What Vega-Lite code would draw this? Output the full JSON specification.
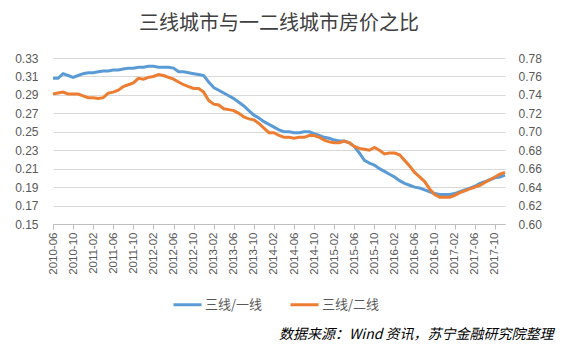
{
  "$schema": "https://vega.github.io/schema/vega-lite/v6.json",
  "width": 452,
  "height": 166,
  "autosize": "none",
  "padding": {"left": 53, "top": 58, "right": 56, "bottom": 120},
  "background": "white",
  "title": {
    "text": "三线城市与一二线城市房价之比",
    "font": "Noto Sans CJK SC",
    "fontSize": 20,
    "fontWeight": "normal",
    "color": "#404040",
    "anchor": "middle",
    "offset": 18
  },
  "config": {
    "view": {"stroke": null},
    "axis": {"labelFont": "Liberation Sans", "labelColor": "#595959", "titleColor": "#000000"}
  },
  "data": {"values": [
    {"month": "2010-06", "a": 0.308, "b": 0.741},
    {"month": "2010-07", "a": 0.308, "b": 0.742},
    {"month": "2010-08", "a": 0.313, "b": 0.743},
    {"month": "2010-09", "a": 0.311, "b": 0.741},
    {"month": "2010-10", "a": 0.309, "b": 0.741},
    {"month": "2010-11", "a": 0.311, "b": 0.741},
    {"month": "2010-12", "a": 0.313, "b": 0.739},
    {"month": "2011-01", "a": 0.314, "b": 0.737},
    {"month": "2011-02", "a": 0.314, "b": 0.737},
    {"month": "2011-03", "a": 0.315, "b": 0.736},
    {"month": "2011-04", "a": 0.316, "b": 0.737},
    {"month": "2011-05", "a": 0.316, "b": 0.742},
    {"month": "2011-06", "a": 0.317, "b": 0.743},
    {"month": "2011-07", "a": 0.317, "b": 0.745},
    {"month": "2011-08", "a": 0.318, "b": 0.749},
    {"month": "2011-09", "a": 0.319, "b": 0.751},
    {"month": "2011-10", "a": 0.319, "b": 0.753},
    {"month": "2011-11", "a": 0.320, "b": 0.758},
    {"month": "2011-12", "a": 0.320, "b": 0.757},
    {"month": "2012-01", "a": 0.321, "b": 0.759},
    {"month": "2012-02", "a": 0.321, "b": 0.760},
    {"month": "2012-03", "a": 0.320, "b": 0.762},
    {"month": "2012-04", "a": 0.320, "b": 0.761},
    {"month": "2012-05", "a": 0.320, "b": 0.759},
    {"month": "2012-06", "a": 0.319, "b": 0.757},
    {"month": "2012-07", "a": 0.315, "b": 0.754},
    {"month": "2012-08", "a": 0.315, "b": 0.751},
    {"month": "2012-09", "a": 0.314, "b": 0.749},
    {"month": "2012-10", "a": 0.313, "b": 0.747},
    {"month": "2012-11", "a": 0.312, "b": 0.747},
    {"month": "2012-12", "a": 0.311, "b": 0.743},
    {"month": "2013-01", "a": 0.304, "b": 0.734},
    {"month": "2013-02", "a": 0.298, "b": 0.730},
    {"month": "2013-03", "a": 0.295, "b": 0.729},
    {"month": "2013-04", "a": 0.292, "b": 0.725},
    {"month": "2013-05", "a": 0.289, "b": 0.724},
    {"month": "2013-06", "a": 0.286, "b": 0.723},
    {"month": "2013-07", "a": 0.282, "b": 0.720},
    {"month": "2013-08", "a": 0.278, "b": 0.716},
    {"month": "2013-09", "a": 0.273, "b": 0.714},
    {"month": "2013-10", "a": 0.268, "b": 0.713},
    {"month": "2013-11", "a": 0.265, "b": 0.709},
    {"month": "2013-12", "a": 0.261, "b": 0.704},
    {"month": "2014-01", "a": 0.258, "b": 0.699},
    {"month": "2014-02", "a": 0.255, "b": 0.699},
    {"month": "2014-03", "a": 0.252, "b": 0.696},
    {"month": "2014-04", "a": 0.250, "b": 0.694},
    {"month": "2014-05", "a": 0.250, "b": 0.694},
    {"month": "2014-06", "a": 0.249, "b": 0.693},
    {"month": "2014-07", "a": 0.249, "b": 0.694},
    {"month": "2014-08", "a": 0.250, "b": 0.694},
    {"month": "2014-09", "a": 0.250, "b": 0.696},
    {"month": "2014-10", "a": 0.248, "b": 0.696},
    {"month": "2014-11", "a": 0.246, "b": 0.694},
    {"month": "2014-12", "a": 0.244, "b": 0.691},
    {"month": "2015-01", "a": 0.243, "b": 0.689},
    {"month": "2015-02", "a": 0.241, "b": 0.688},
    {"month": "2015-03", "a": 0.240, "b": 0.688},
    {"month": "2015-04", "a": 0.240, "b": 0.690},
    {"month": "2015-05", "a": 0.238, "b": 0.688},
    {"month": "2015-06", "a": 0.234, "b": 0.684},
    {"month": "2015-07", "a": 0.227, "b": 0.682},
    {"month": "2015-08", "a": 0.219, "b": 0.681},
    {"month": "2015-09", "a": 0.216, "b": 0.680},
    {"month": "2015-10", "a": 0.214, "b": 0.683},
    {"month": "2015-11", "a": 0.210, "b": 0.680},
    {"month": "2015-12", "a": 0.207, "b": 0.676},
    {"month": "2016-01", "a": 0.204, "b": 0.677},
    {"month": "2016-02", "a": 0.201, "b": 0.677},
    {"month": "2016-03", "a": 0.197, "b": 0.675},
    {"month": "2016-04", "a": 0.194, "b": 0.669},
    {"month": "2016-05", "a": 0.192, "b": 0.663},
    {"month": "2016-06", "a": 0.190, "b": 0.656},
    {"month": "2016-07", "a": 0.189, "b": 0.651},
    {"month": "2016-08", "a": 0.187, "b": 0.646},
    {"month": "2016-09", "a": 0.185, "b": 0.638},
    {"month": "2016-10", "a": 0.183, "b": 0.632},
    {"month": "2016-11", "a": 0.182, "b": 0.629},
    {"month": "2016-12", "a": 0.182, "b": 0.629},
    {"month": "2017-01", "a": 0.182, "b": 0.629},
    {"month": "2017-02", "a": 0.183, "b": 0.631},
    {"month": "2017-03", "a": 0.185, "b": 0.634},
    {"month": "2017-04", "a": 0.187, "b": 0.636},
    {"month": "2017-05", "a": 0.189, "b": 0.638},
    {"month": "2017-06", "a": 0.191, "b": 0.640},
    {"month": "2017-07", "a": 0.194, "b": 0.642},
    {"month": "2017-08", "a": 0.196, "b": 0.645},
    {"month": "2017-09", "a": 0.198, "b": 0.648},
    {"month": "2017-10", "a": 0.200, "b": 0.651},
    {"month": "2017-11", "a": 0.201, "b": 0.654},
    {"month": "2017-12", "a": 0.203, "b": 0.656}
  ]},
  "encoding": {
    "x": {
      "field": "month",
      "type": "ordinal",
      "sort": null,
      "scale": {"type": "point", "padding": 0},
      "axis": {
        "values": ["2010-06","2010-10","2011-02","2011-06","2011-10","2012-02","2012-06","2012-10","2013-02","2013-06","2013-10","2014-02","2014-06","2014-10","2015-02","2015-06","2015-10","2016-02","2016-06","2016-10","2017-02","2017-06","2017-10"],
        "labelAngle": 270,
        "labelFontSize": 11.5,
        "labelPadding": 3,
        "tickSize": 5,
        "tickColor": "#bfbfbf",
        "domainColor": "#bfbfbf",
        "grid": false,
        "title": "数据来源：Wind 资讯，苏宁金融研究院整理",
        "titleFont": "Noto Sans CJK SC",
        "titleFontSize": 14,
        "titleFontStyle": "italic",
        "titleFontWeight": "normal",
        "titleColor": "#000000",
        "titleAnchor": "end",
        "titleAlign": "right",
        "titleBaseline": "alphabetic",
        "titleX": 500,
        "titleY": 114
      }
    }
  },
  "layer": [
    {
      "mark": {"type": "line", "strokeWidth": 3},
      "encoding": {
        "y": {
          "field": "a",
          "type": "quantitative",
          "scale": {"domain": [0.15, 0.33], "nice": false, "zero": false},
          "axis": {
            "orient": "left",
            "values": [0.15,0.17,0.19,0.21,0.23,0.25,0.27,0.29,0.31,0.33],
            "format": ".2f",
            "title": null,
            "domain": false,
            "ticks": false,
            "labelPadding": 15,
            "labelFontSize": 12,
            "grid": true,
            "gridColor": "#d9d9d9"
          }
        },
        "color": {
          "datum": "三线/一线",
          "type": "nominal",
          "scale": {"domain": ["三线/一线", "三线/二线"], "range": ["#5B9BD5", "#ED7D31"]},
          "legend": {
            "title": null,
            "orient": "none",
            "direction": "horizontal",
            "legendX": 119,
            "legendY": 231,
            "symbolType": "stroke",
            "symbolStrokeWidth": 3,
            "symbolSize": 784,
            "labelFont": "Noto Sans CJK SC",
            "labelFontSize": 13,
            "labelColor": "#595959",
            "labelOffset": 2,
            "columnPadding": 21
          }
        }
      }
    },
    {
      "mark": {"type": "line", "strokeWidth": 3},
      "encoding": {
        "y": {
          "field": "b",
          "type": "quantitative",
          "scale": {"domain": [0.60, 0.78], "nice": false, "zero": false},
          "axis": {
            "orient": "right",
            "values": [0.60,0.62,0.64,0.66,0.68,0.70,0.72,0.74,0.76,0.78],
            "format": ".2f",
            "title": null,
            "domain": false,
            "ticks": false,
            "labelPadding": 13,
            "labelFontSize": 12,
            "grid": false
          }
        },
        "color": {"datum": "三线/二线", "type": "nominal"}
      }
    }
  ],
  "resolve": {"scale": {"y": "independent"}}
}
